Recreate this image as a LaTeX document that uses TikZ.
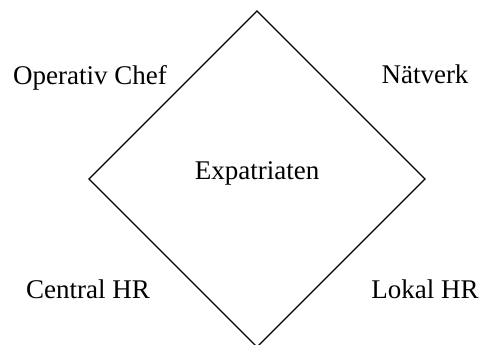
\documentclass[tikz,border=0pt]{standalone}
\usepackage{fontspec}
\setmainfont{Liberation Serif}
\begin{document}
\begin{tikzpicture}[x=1pt,y=1pt,
  edge/.style={line width=1.4pt,line join=miter},
  lbl/.style={anchor=base,inner sep=0pt,font=\fontsize{27}{32}\selectfont}]
\useasboundingbox (0,0) rectangle (479,345);
% corners of the diamond
\coordinate (top) at (257,334);
\coordinate (left) at (89,166);
\coordinate (right) at (425,166);
\coordinate (bottom) at (257,-2);
\draw[edge] (top) -- (right) -- (bottom) -- (left) -- cycle;
% labels
\node[lbl] (center) at (257,165) {Expatriaten};
\node[lbl] (opchef) at (90,260) {Operativ Chef};
\node[lbl] (natverk) at (425,261) {Nätverk};
\node[lbl] (central) at (88,46) {Central HR};
\node[lbl] (lokal) at (425,46) {Lokal HR};
\end{tikzpicture}
\end{document}
